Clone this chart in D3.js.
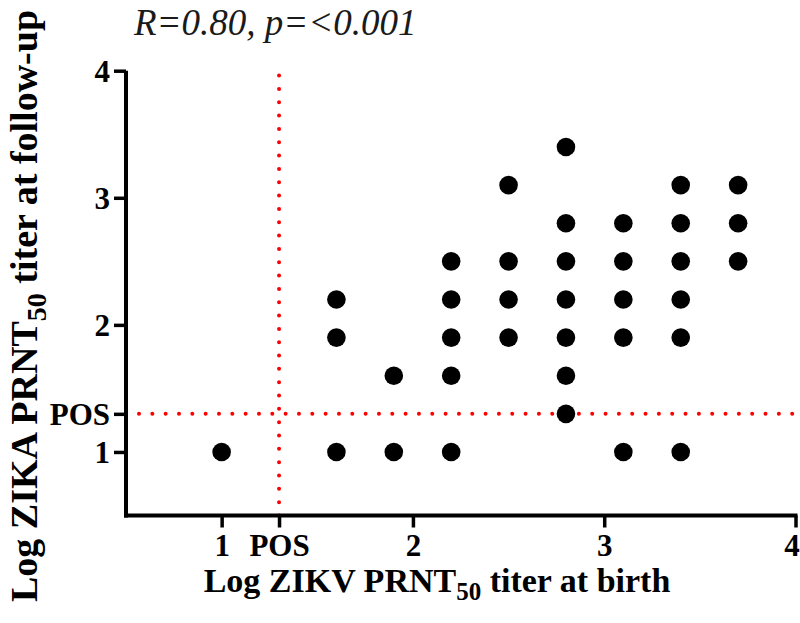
<!DOCTYPE html>
<html>
<head>
<meta charset="utf-8">
<script src="https://cdn.jsdelivr.net/npm/d3@7"></script>
<style>
  html, body { margin: 0; padding: 0; background: #fff; }
  svg { display: block; }
  text { font-family: "Liberation Serif", "Times New Roman", serif; }
</style>
</head>
<body>
<script>
// Data: log10 PRNT50 titers (birth vs follow-up)
const birthTiter = [1.0,
  1.6, 1.6, 1.6,
  1.9, 1.9,
  2.2, 2.2, 2.2, 2.2, 2.2,
  2.5, 2.5, 2.5, 2.5,
  2.8, 2.8, 2.8, 2.8, 2.8, 2.8, 2.8,
  3.1, 3.1, 3.1, 3.1, 3.1,
  3.4, 3.4, 3.4, 3.4, 3.4, 3.4,
  3.7, 3.7, 3.7];
const followUpTiter = [1.0,
  2.2, 1.9, 1.0,
  1.6, 1.0,
  2.5, 2.2, 1.9, 1.6, 1.0,
  3.1, 2.5, 2.2, 1.9,
  3.4, 2.8, 2.5, 2.2, 1.9, 1.6, 1.3,
  2.8, 2.5, 2.2, 1.9, 1.0,
  3.1, 2.8, 2.5, 2.2, 1.9, 1.0,
  3.1, 2.8, 2.5];
const xTickValues = [1, 1.3, 2, 3, 4];
const xTickLabels = ["1", "POS", "2", "3", "4"];
const yTickValues = [1, 1.3, 2, 3, 4];
const yTickLabels = ["1", "POS", "2", "3", "4"];
const posCutoff = 1.3;
const statText = "R=0.80, p=<0.001";

const W = 800, H = 623;
const svg = d3.select("body").append("svg").attr("width", W).attr("height", H);

const x = d3.scaleLinear().domain([0.5, 4]).range([126, 795.5]);
const y = d3.scaleLinear().domain([0.5, 4]).range([515.5, 70.7]);

// Reference lines (red dotted)
const dotted = { stroke: "#ff0000", width: 4, dash: "0,13.33" };
svg.append("line")
  .attr("x1", x(posCutoff)).attr("x2", x(posCutoff))
  .attr("y1", y(0.5)).attr("y2", y(4))
  .attr("stroke", dotted.stroke).attr("stroke-width", dotted.width)
  .attr("stroke-linecap", "round").attr("stroke-dasharray", dotted.dash);
svg.append("line")
  .attr("x1", x(0.5) + 13).attr("x2", x(4))
  .attr("y1", y(posCutoff)).attr("y2", y(posCutoff))
  .attr("stroke", dotted.stroke).attr("stroke-width", dotted.width)
  .attr("stroke-linecap", "round").attr("stroke-dasharray", dotted.dash);

// Axes
const xAxis = d3.axisBottom(x).tickValues(xTickValues)
  .tickFormat((d, i) => xTickLabels[i]).tickSizeOuter(0).tickSize(12).tickPadding(6);
const yAxis = d3.axisLeft(y).tickValues(yTickValues)
  .tickFormat((d, i) => yTickLabels[i]).tickSizeOuter(0).tickSize(12).tickPadding(4);

const gx = svg.append("g").attr("transform", `translate(0,${y(0.5)})`).call(xAxis);
const gy = svg.append("g").attr("transform", `translate(${x(0.5)},0)`).call(yAxis);

[gx, gy].forEach(g => {
  g.select(".domain").attr("stroke", "#000").attr("stroke-width", 4);
  g.selectAll(".tick line").attr("stroke", "#000").attr("stroke-width", 3.5);
  g.selectAll(".tick text")
    .attr("fill", "#000")
    .style("font-family", '"Liberation Serif", "Times New Roman", serif')
    .style("font-weight", "bold")
    .style("font-size", "31px");
});
// extend domain lines to meet at corner
gx.select(".domain").attr("d", `M${x(0.5) - 2},0H${x(4) + 2}`);
gy.select(".domain").attr("d", `M0,${y(0.5) + 2}V${y(4)}`);
gy.selectAll(".tick text").attr("dy", "0.34em");
// keep the last x label inside the frame
gx.selectAll(".tick text").filter((d, i) => i === xTickValues.length - 1).attr("dx", -4);

// Points
svg.append("g").selectAll("circle")
  .data(birthTiter.map((b, i) => [b, followUpTiter[i]]))
  .join("circle")
  .attr("cx", d => x(d[0]))
  .attr("cy", d => y(d[1]))
  .attr("r", 9.3)
  .attr("fill", "#000");

// X axis title
const xt = svg.append("text")
  .attr("x", 437).attr("y", 592)
  .attr("text-anchor", "middle")
  .style("font-weight", "bold").style("font-size", "34px").attr("fill", "#000");
xt.append("tspan").text("Log ZIKV PRNT");
xt.append("tspan").attr("dy", 8).style("font-size", "25px").text("50");
xt.append("tspan").attr("dy", -8).text(" titer at birth");

// Y axis title
const yt = svg.append("text")
  .attr("transform", `translate(37,${306}) rotate(-90)`)
  .attr("text-anchor", "middle")
  .style("font-weight", "bold").style("font-size", "38px").attr("fill", "#000");
yt.append("tspan").text("Log ZIKA PRNT");
yt.append("tspan").attr("dy", 9).style("font-size", "28px").text("50");
yt.append("tspan").attr("dy", -9).text(" titer at follow-up");

// Stat annotation
svg.append("text")
  .attr("x", 134).attr("y", 35)
  .style("font-style", "italic").style("font-size", "37px").attr("fill", "#1a1a1a")
  .text(statText);
</script>
</body>
</html>
